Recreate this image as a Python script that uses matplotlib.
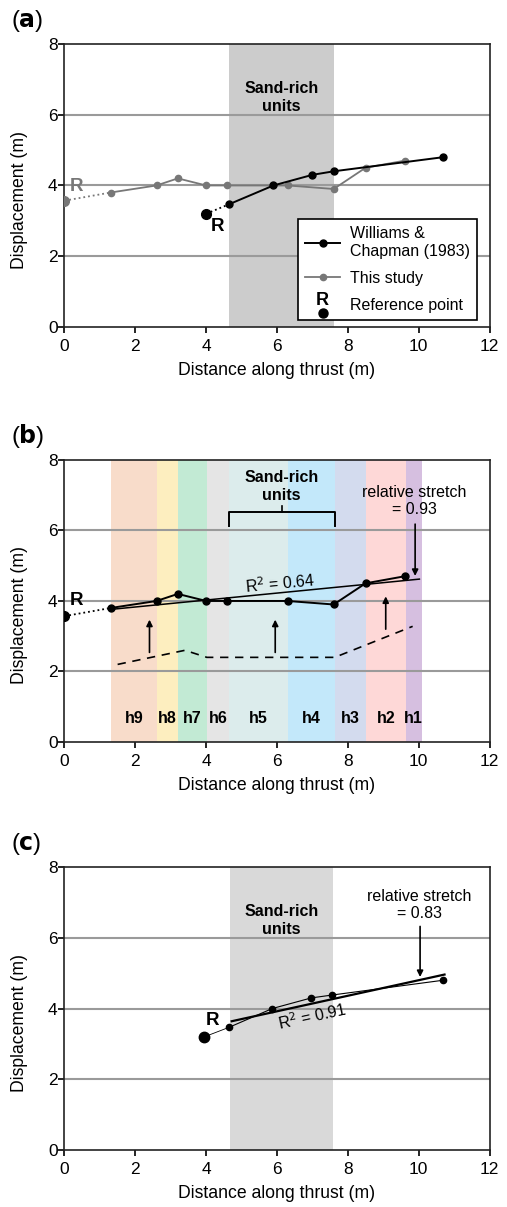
import numpy as np
import matplotlib
matplotlib.use("Agg")
import matplotlib.pyplot as plt
from matplotlib.lines import Line2D
from matplotlib.text import Text
from matplotlib.legend_handler import HandlerBase

plt.rcParams['font.family'] = ['Liberation Sans', 'DejaVu Sans']

# ---- data ----
# panel (a)
wc_ref = (4.0, 3.2)
wc_x = [4.65, 5.9, 7.0, 7.6, 10.7]
wc_y = [3.47, 4.0, 4.3, 4.4, 4.8]
ts_ref = (0.0, 3.57)
ts_x = [1.3, 2.6, 3.2, 4.0, 4.6, 6.3, 7.6, 8.5, 9.6]
ts_y = [3.8, 4.0, 4.2, 4.0, 4.0, 4.0, 3.9, 4.5, 4.7]
sand_a = (4.65, 7.6)

# panel (b)
hor_names = ['h9', 'h8', 'h7', 'h6', 'h5', 'h4', 'h3', 'h2', 'h1']
hor_edges = [1.32, 2.61, 3.2, 4.02, 4.64, 6.32, 7.63, 8.52, 9.64, 10.08]
hor_colors = ['#f8dcca', '#fdeebf', '#c2ead4', '#e5e5e5', '#dcecec',
              '#c3e8fa', '#d3dbee', '#fed8d7', '#d6bfe0']
fit_b_x = [1.3, 10.02]
fit_b_y = [3.76, 4.62]
dash_x = [1.5, 3.4, 4.02, 7.63, 9.83]
dash_y = [2.2, 2.6, 2.4, 2.4, 3.28]
up_arrow_x = [2.4, 5.95, 9.07]
up_arrow_y0 = [2.54, 2.54, 3.2]
up_arrow_y1 = [3.47, 3.47, 4.13]

# panel (c)
c_ref = (3.95, 3.2)
c_x = [4.65, 5.87, 6.97, 7.55, 10.7]
c_y = [3.47, 4.0, 4.3, 4.38, 4.8]
fit_c_x = [4.72, 10.73]
fit_c_y = [3.64, 4.96]
sand_c = (4.68, 7.57)

FS = 11.5
GRID = '#9a9a9a'
GREY = '#777777'


class RefHandler(HandlerBase):
    def create_artists(self, legend, orig_handle, xdescent, ydescent,
                       width, height, fontsize, trans):
        cx = width / 2 - xdescent
        dot = Line2D([cx], [-0.3 * height], marker='o', ls='none', color='black',
                     ms=6.5, transform=trans)
        txt = Text(cx, 0.8 * height, 'R', ha='center', va='center', fontsize=fontsize + 1.5,
                   fontweight='bold', transform=trans)
        return [dot, txt]


def style_axes(ax):
    ax.set_xlim(0, 12)
    ax.set_ylim(0, 8)
    ax.set_xticks(np.arange(0, 13, 2))
    ax.set_yticks(np.arange(0, 9, 2))
    for y in [2, 4, 6]:
        ax.axhline(y, color=GRID, lw=1.5, zorder=1.5)
    for s in ax.spines.values():
        s.set_linewidth(1.2)
        s.set_color('#222222')
    ax.tick_params(direction='out', length=4, width=1.2, labelsize=12.5)
    ax.tick_params(axis='x', pad=4.5)
    ax.tick_params(axis='y', pad=1)
    ax.set_xlabel('Distance along thrust (m)', fontsize=12.7, labelpad=6)
    ax.set_ylabel('Displacement (m)', fontsize=12.7)
    ax.yaxis.set_label_coords(-0.087, 0.45)


fig = plt.figure(figsize=(5.07, 12.07), dpi=100)
ax_a = fig.add_axes([0.1272, 0.7291, 0.8383, 0.2345])
ax_b = fig.add_axes([0.1272, 0.3853, 0.8383, 0.2336])
ax_c = fig.add_axes([0.1272, 0.0472, 0.8383, 0.2345])

# ---- (a) ----
ax = ax_a
style_axes(ax)
ax.axvspan(*sand_a, color='#cccccc', lw=0, zorder=1)
ax.text(np.mean(sand_a), 6.5, 'Sand-rich\nunits', ha='center', va='center',
        fontsize=FS, fontweight='bold', linespacing=1.25)
ax.plot([ts_ref[0], ts_x[0]], [ts_ref[1], ts_y[0]], ls=':', color=GREY, lw=1.3, zorder=3)
ax.plot(ts_x, ts_y, '-o', color=GREY, lw=1.3, ms=4.5, zorder=3)
ax.plot(*ts_ref, 'o', color=GREY, ms=7, zorder=4)
ax.text(0.33, 3.98, 'R', color=GREY, fontsize=FS + 2, fontweight='bold', ha='center', va='center')
ax.plot([wc_ref[0], wc_x[0]], [wc_ref[1], wc_y[0]], ls=':', color='black', lw=1.3, zorder=3)
ax.plot(wc_x, wc_y, '-o', color='black', lw=1.4, ms=5, zorder=4)
ax.plot(*wc_ref, 'o', color='black', ms=7, zorder=5)
ax.text(4.32, 2.85, 'R', color='black', fontsize=FS + 2, fontweight='bold', ha='center', va='center')

h_wc = Line2D([], [], color='black', lw=1.4, marker='o', ms=5)
h_ts = Line2D([], [], color=GREY, lw=1.3, marker='o', ms=4.5)
h_ref = Line2D([], [])
leg = ax.legend([h_wc, h_ts, h_ref], ['Williams &\nChapman (1983)', 'This study', 'Reference point'],
                handler_map={h_ref: RefHandler()}, loc='lower right',
                bbox_to_anchor=(0.9706, 0.025), borderaxespad=0, fontsize=FS, frameon=True,
                fancybox=False, edgecolor='black', framealpha=1, handlelength=2.2,
                handletextpad=0.6, borderpad=0.45, labelspacing=0.75)
leg.get_frame().set_linewidth(1.2)
leg.set_zorder(6)

# ---- (b) ----
ax = ax_b
style_axes(ax)
for i, name in enumerate(hor_names):
    x0, x1 = hor_edges[i], hor_edges[i + 1]
    ax.axvspan(x0, x1, color=hor_colors[i], lw=0, zorder=1)
    ax.text((x0 + x1) / 2, 0.66, name, ha='center', va='center', fontsize=FS, fontweight='bold')
ax.text(6.12, 7.24, 'Sand-rich\nunits', ha='center', va='center',
        fontsize=FS, fontweight='bold', linespacing=1.25)
ax.plot([4.65, 4.65, 7.63, 7.63], [6.12, 6.53, 6.53, 6.12], color='black', lw=1.4, zorder=3)
ax.plot([6.13, 6.13], [6.53, 6.7], color='black', lw=1.2, zorder=3)
ax.plot(fit_b_x, fit_b_y, color='black', lw=1.1, zorder=3)
ax.text(6.1, 4.5, 'R$^2$ = 0.64', rotation=5.5, ha='center', va='center', fontsize=FS,
        rotation_mode='anchor')
ax.plot([ts_ref[0], ts_x[0]], [ts_ref[1], ts_y[0]], ls=':', color='black', lw=1.3, zorder=3)
ax.plot(ts_x, ts_y, '-o', color='black', lw=1.4, ms=5, zorder=4)
ax.plot(*ts_ref, 'o', color='black', ms=7, zorder=5)
ax.text(0.33, 4.02, 'R', color='black', fontsize=FS + 2, fontweight='bold', ha='center', va='center')
ax.plot(dash_x, dash_y, ls=(0, (5, 4)), color='black', lw=1.2, zorder=3)
for x, y0, y1 in zip(up_arrow_x, up_arrow_y0, up_arrow_y1):
    ax.annotate('', xy=(x, y1), xytext=(x, y0),
                arrowprops=dict(arrowstyle='-|>', color='black', lw=1.2,
                                mutation_scale=9, shrinkA=0, shrinkB=0), zorder=4)
ax.text(9.88, 6.83, 'relative stretch\n= 0.93', ha='center', va='center', fontsize=FS,
        linespacing=1.2)
ax.annotate('', xy=(9.9, 4.71), xytext=(9.9, 6.18),
            arrowprops=dict(arrowstyle='-|>', color='black', lw=1.2,
                            mutation_scale=9, shrinkA=0, shrinkB=0), zorder=4)

# ---- (c) ----
ax = ax_c
style_axes(ax)
ax.axvspan(*sand_c, color='#d9d9d9', lw=0, zorder=1)
ax.text(np.mean(sand_c), 6.5, 'Sand-rich\nunits', ha='center', va='center',
        fontsize=FS, fontweight='bold', linespacing=1.25)
ax.plot([c_ref[0], c_x[0]], [c_ref[1], c_y[0]], ls='-', color='black', lw=0.6, zorder=3)
ax.plot(c_x, c_y, '-o', color='black', lw=0.8, ms=4.5, zorder=4)
ax.plot(*c_ref, 'o', color='black', ms=7.5, zorder=5)
ax.text(4.19, 3.67, 'R', color='black', fontsize=FS + 2, fontweight='bold', ha='center', va='center')
ax.plot(fit_c_x, fit_c_y, color='black', lw=1.6, zorder=3)
ax.text(7.0, 3.78, 'R$^2$ = 0.91', rotation=12.4, ha='center', va='center', fontsize=FS,
        rotation_mode='anchor')
ax.text(10.02, 6.92, 'relative stretch\n= 0.83', ha='center', va='center', fontsize=FS,
        linespacing=1.2)
ax.annotate('', xy=(10.04, 4.89), xytext=(10.04, 6.32),
            arrowprops=dict(arrowstyle='-|>', color='black', lw=1.2,
                            mutation_scale=9, shrinkA=0, shrinkB=0), zorder=4)

# panel labels
for ax_, lab in [(ax_a, 'a'), (ax_b, 'b'), (ax_c, 'c')]:
    bb = ax_.get_position()
    fig.text(0.022, bb.y1 + 0.0085, '(' + r'$\bf{' + lab + '}$' + ')', fontsize=17,
             ha='left', va='bottom')

fig.savefig('out.png', dpi=100)
